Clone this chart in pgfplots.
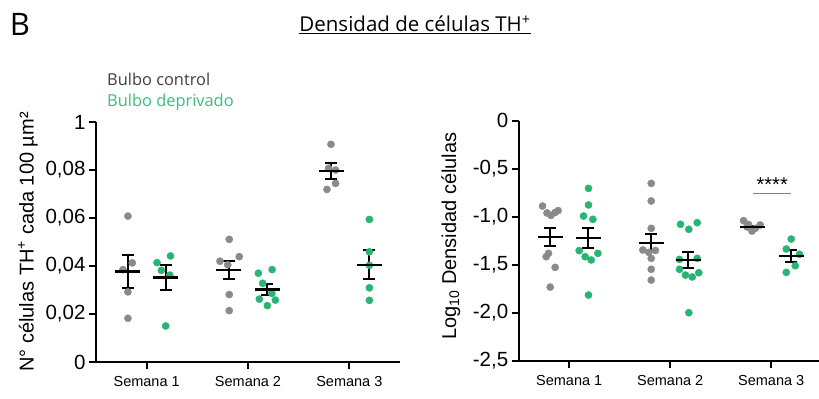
\documentclass[border=0pt]{standalone}
\usepackage{fontspec}
\setmainfont{Liberation Sans}
\newfontfamily\segoe{Open Sans}
\usepackage{pgfplots}
\pgfplotsset{compat=1.18}
\definecolor{ctrl}{RGB}{138,138,138}
\definecolor{depr}{RGB}{40,180,115}
\definecolor{legctrl}{RGB}{64,64,64}
\definecolor{leggreen}{RGB}{60,190,125}

\pgfplotsset{
  panel/.style={
    scale only axis,
    anchor=south west,
    axis lines=left,
    axis line style={-, line width=2bp, black},
    tick align=outside,
    major tick length=7bp,
    every tick/.style={line width=2bp, black},
    xtick={1,2,3},
    xticklabels={Semana 1,Semana 2,Semana 3},
    xmin=0.5,
    x tick label style={font=\fontsize{14.5bp}{16bp}\selectfont, yshift=-4bp},
    y tick label style={font=\fontsize{20.5bp}{22bp}\selectfont},
    clip=false,
  },
  ctrlpts/.style={only marks, mark=*, mark size=3.6bp, color=ctrl, mark options={draw=ctrl, fill=ctrl}},
  deprpts/.style={only marks, mark=*, mark size=3.6bp, color=depr, mark options={draw=depr, fill=depr}},
  meanerr/.style={only marks, mark=-, mark size=12.5bp, black,
    mark options={line width=2.2bp, black},
    error bars/.cd, y dir=both, y explicit,
    error bar style={line width=2bp, black},
    error mark options={rotate=90, mark size=6bp, line width=2bp, black}},
}

\begin{document}
\begin{tikzpicture}
\useasboundingbox (0,0) rectangle (819bp,399bp);

% Panel letter, title, legend
\node[anchor=center, font=\segoe\fontsize{31bp}{34bp}\selectfont] at (20bp,375bp) {B};
\node[anchor=center, font=\segoe\fontsize{20.5bp}{24bp}\selectfont] at (415bp,374bp) {\underline{Densidad de células TH\textsuperscript{+}}};
\node[anchor=west, font=\segoe\fontsize{16.4bp}{18bp}\selectfont, text=legctrl, inner sep=0pt] at (107bp,320bp) {Bulbo control};
\node[anchor=west, font=\segoe\fontsize{16.4bp}{18bp}\selectfont, text=leggreen, inner sep=0pt] at (107bp,297bp) {Bulbo deprivado};

% Left panel
\begin{axis}[panel,
  at={(96bp,37bp)}, width=304bp, height=240bp,
  xmax=3.5, ymin=0, ymax=0.1,
  ytick={0,0.02,0.04,0.06,0.08,0.1},
  yticklabels={0,{0,02},{0,04},{0,06},{0,08},1},
  ylabel={N° células TH\textsuperscript{+} cada 100 µm²},
  ylabel style={at={(axis description cs:-0.224,0.5)}, anchor=center, rotate=0, font=\fontsize{20bp}{22bp}\selectfont},
]
\addplot[ctrlpts] coordinates {
 (0.815,0.0608) (0.766,0.0385) (0.858,0.0413) (0.815,0.0292) (0.815,0.0182)
 (1.815,0.0511) (1.723,0.0420) (1.914,0.0439) (1.800,0.0405) (1.815,0.0281) (1.815,0.0214)
 (2.819,0.0907) (2.795,0.0807) (2.864,0.0800) (2.779,0.0719) (2.864,0.0744)
};
\addplot[deprpts] coordinates {
 (1.102,0.0414) (1.235,0.0442) (1.145,0.0382) (1.228,0.0362) (1.188,0.0150)
 (2.102,0.0370) (2.238,0.0385) (2.145,0.0328) (2.235,0.0286) (2.112,0.0262) (2.191,0.0235) (2.270,0.0258)
 (3.198,0.0594) (3.198,0.0459) (3.198,0.0403) (3.198,0.0309) (3.198,0.0257)
};
\addplot[meanerr] coordinates {
 (0.812,0.0377) +- (0,0.0070)
 (1.188,0.0352) +- (0,0.0052)
 (1.812,0.0384) +- (0,0.0038)
 (2.188,0.0302) +- (0,0.0022)
 (2.822,0.0796) +- (0,0.0034)
 (3.198,0.0405) +- (0,0.0061)
};
\end{axis}

% Right panel
\begin{axis}[panel,
  at={(518.7bp,38bp)}, width=300.3bp, height=240.3bp,
  xmax=3.473, ymin=-2.5, ymax=0,
  ytick={-2.5,-2,-1.5,-1,-0.5,0},
  yticklabels={{-2,5},{-2,0},{-1,5},{-1,0},{-0,5},0},
  ylabel={Log\textsubscript{10} Densidad células},
  ylabel style={at={(axis description cs:-0.226,0.52)}, anchor=center, rotate=0, font=\fontsize{20bp}{22bp}\selectfont},
]
\addplot[ctrlpts] coordinates {
 (0.736,-0.888) (0.780,-0.960) (0.820,-0.985) (0.860,-0.955) (0.890,-0.935)
 (0.772,-1.415) (0.795,-1.380) (0.861,-1.526) (0.812,-1.731)
 (1.812,-0.652) (1.812,-0.835) (1.812,-1.120) (1.729,-1.345) (1.788,-1.370) (1.854,-1.350) (1.812,-1.432) (1.812,-1.546) (1.812,-1.658)
 (2.726,-1.040) (2.775,-1.080) (2.809,-1.148) (2.891,-1.085) (2.842,-1.120) (2.760,-1.105)
};
\addplot[deprpts] coordinates {
 (1.191,-0.704) (1.191,-0.877) (1.142,-0.992) (1.234,-1.026) (1.099,-1.352) (1.158,-1.415) (1.218,-1.449) (1.284,-1.380) (1.191,-1.814)
 (2.102,-1.078) (2.184,-1.130) (2.267,-1.061) (2.092,-1.443) (2.267,-1.432) (2.092,-1.546) (2.151,-1.606) (2.218,-1.626) (2.283,-1.582) (2.184,-1.998)
 (3.198,-1.231) (3.149,-1.335) (3.280,-1.390) (3.238,-1.509) (3.149,-1.578)
};
\addplot[meanerr] coordinates {
 (0.812,-1.207) +- (0,0.094)
 (1.188,-1.224) +- (0,0.104)
 (1.814,-1.269) +- (0,0.090)
 (2.180,-1.450) +- (0,0.082)
 (2.810,-1.103) +- (0,0.012)
 (3.200,-1.408) +- (0,0.061)
};
\addplot[gray, line width=1.2bp] coordinates {(2.82,-0.756) (3.20,-0.756)};
\node[font=\fontsize{20bp}{22bp}\selectfont, anchor=center] at (axis cs:3.01,-0.66) {****};
\end{axis}
\end{tikzpicture}
\end{document}
